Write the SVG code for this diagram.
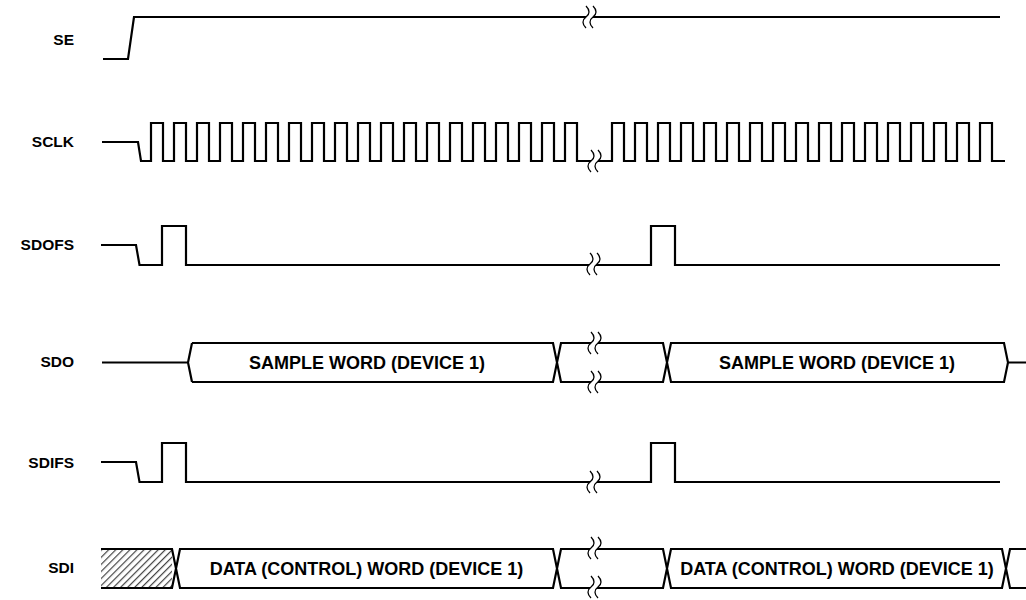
<svg xmlns="http://www.w3.org/2000/svg" xmlns:xlink="http://www.w3.org/1999/xlink" width="1026" height="600" viewBox="0 0 1026 600">
<style>
.w{fill:none;stroke:#000;stroke-width:2.2;stroke-linejoin:miter}
.lbl{font-family:"Liberation Sans",Arial,sans-serif;font-weight:bold;font-size:15.5px;fill:#000;text-anchor:end}
.bus{font-family:"Liberation Sans",Arial,sans-serif;font-weight:bold;font-size:18px;fill:#000;text-anchor:middle}
.bk{fill:none;stroke:#000;stroke-width:1.3}
</style>
<defs>
<pattern id="hatch" width="5" height="5" patternUnits="userSpaceOnUse" patternTransform="rotate(45)">
<rect width="5" height="5" fill="#fff"/>
<line x1="0" y1="0" x2="0" y2="5" stroke="#444" stroke-width="2.4"/>
</pattern>
<g id="brk">
<path d="M2,0 C6,4 6,8 2,11 C-2,14 -2,18 2,22 L9,22 C5,18 5,14 9,11 C13,8 13,4 9,0 Z" fill="#fff" stroke="none"/>
<path class="bk" d="M2,0 C6,4 6,8 2,11 C-2,14 -2,18 2,22"/>
<path class="bk" d="M9,0 C13,4 13,8 9,11 C5,14 5,18 9,22"/>
</g>
</defs>
<g id="labels">
<text class="lbl" x="74" y="45">SE</text>
<text class="lbl" x="74" y="147">SCLK</text>
<text class="lbl" x="74" y="250">SDOFS</text>
<text class="lbl" x="74" y="367">SDO</text>
<text class="lbl" x="74" y="468">SDIFS</text>
<text class="lbl" x="74" y="573">SDI</text>
</g>
<g id="se">
<path class="w" d="M103,59 H128 L134,17 H1000"/>
<use xlink:href="#brk" x="584" y="6"/>
</g>
<g id="sclk">
<path class="w" d="M102,142 H138 L141,161 H151 V123 h12 V161 h11 V123 h12 V161 h11 V123 h12 V161 h11 V123 h12 V161 h11 V123 h12 V161 h11 V123 h12 V161 h11 V123 h12 V161 h11 V123 h12 V161 h11 V123 h12 V161 h11 V123 h12 V161 h11 V123 h12 V161 h11 V123 h12 V161 h11 V123 h12 V161 h11 V123 h12 V161 h11 V123 h12 V161 h11 V123 h12 V161 h11 V123 h12 V161 h11 V123 h12 V161 h11 V123 h12 V161 H612 V123 h12 V161 h11 V123 h12 V161 h11 V123 h12 V161 h11 V123 h12 V161 h11 V123 h12 V161 h11 V123 h12 V161 h11 V123 h12 V161 h11 V123 h12 V161 h11 V123 h12 V161 h11 V123 h12 V161 h11 V123 h12 V161 h11 V123 h12 V161 h11 V123 h12 V161 h11 V123 h12 V161 h11 V123 h12 V161 h11 V123 h12 V161 h11 V123 h12 V161 h13"/>
<use xlink:href="#brk" x="589" y="150"/>
</g>
<g id="sdofs">
<path class="w" d="M101,245 H136 L139.5,265 H162 V226 H186 V265 H651 V226 H675 V265 H1000"/>
<use xlink:href="#brk" x="588" y="253"/>
</g>
<g id="sdo">
<path class="w" d="M102,362.5 H188 M192,343 L188,362.5 L192,382 M192,343 H553 L561,382 H663 L671,343 H1004 L1008,362.5 L1004,382 H671 L663,343 H561 L553,382 H192 M1008,362.5 H1026"/>
<use xlink:href="#brk" x="589" y="332"/>
<use xlink:href="#brk" x="589" y="371"/>
<text class="bus" x="367" y="369">SAMPLE WORD (DEVICE 1)</text>
<text class="bus" x="837" y="369">SAMPLE WORD (DEVICE 1)</text>
</g>
<g id="sdifs">
<path class="w" d="M101,462 H136 L139.5,482 H162 V443 H186 V482 H651 V443 H675 V482 H1000"/>
<use xlink:href="#brk" x="588" y="471"/>
</g>
<g id="sdi">
<rect x="101" y="549" width="71" height="39" fill="url(#hatch)"/>
<path class="w" d="M101,549 H172 L180,588 H553 L561,549 H663 L671,588 H1002 L1010,549 H1026 M101,588 H172 L180,549 H553 L561,588 H663 L671,549 H1002 L1010,588 H1026"/>
<use xlink:href="#brk" x="589" y="537"/>
<use xlink:href="#brk" x="589" y="576"/>
<text class="bus" x="366.5" y="575">DATA (CONTROL) WORD (DEVICE 1)</text>
<text class="bus" x="837" y="575">DATA (CONTROL) WORD (DEVICE 1)</text>
</g>
</svg>
